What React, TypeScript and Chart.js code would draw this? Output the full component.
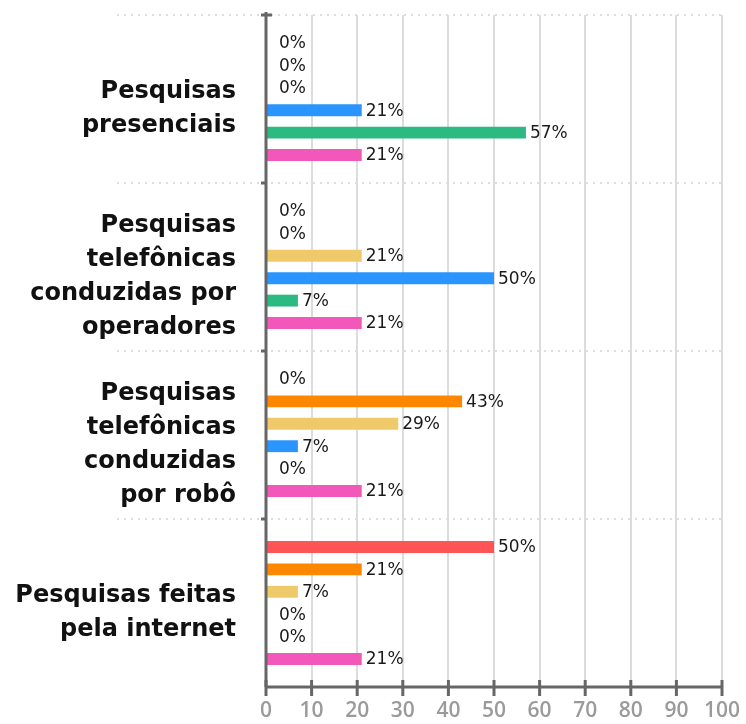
import React, { useEffect, useRef } from "react";
import { Chart, registerables } from "chart.js";

Chart.register(...registerables);

const categories: string[][] = [
  ["Pesquisas", "presenciais"],
  ["Pesquisas", "telefônicas", "conduzidas por", "operadores"],
  ["Pesquisas", "telefônicas", "conduzidas", "por robô"],
  ["Pesquisas feitas", "pela internet"],
];

const redValues = [0, 0, 0, 50];
const orangeValues = [0, 0, 43, 21];
const yellowValues = [0, 21, 29, 7];
const blueValues = [21, 50, 7, 0];
const greenValues = [57, 7, 0, 0];
const pinkValues = [21, 21, 21, 21];

const seriesColors = ["#FF5456", "#FF8700", "#F0CA6A", "#2A95FF", "#2DB982", "#F257B9"];
const seriesNames = ["A", "B", "C", "D", "E", "F"];
const xMin = 0;
const xMax = 100;
const xStep = 10;

const LABEL_FONT = "'DejaVu Sans', sans-serif";
const TICK_FONT = "'Open Sans', 'DejaVu Sans', sans-serif";

const decorPlugin = {
  id: "decor",
  beforeDatasetsDraw(chart: any) {
    const { ctx, chartArea } = chart;
    const n = categories.length;
    const h = (chartArea.bottom - chartArea.top) / n;
    ctx.save();
    ctx.strokeStyle = "#dddddd";
    ctx.lineWidth = 2;
    ctx.setLineDash([2, 5]);
    for (let i = 0; i < n; i++) {
      const y = chartArea.top + i * h;
      ctx.beginPath();
      ctx.moveTo(chartArea.left - 149, y);
      ctx.lineTo(chartArea.right, y);
      ctx.stroke();
    }
    ctx.restore();
  },
  afterDatasetsDraw(chart: any) {
    const { ctx, chartArea, scales } = chart;
    const n = categories.length;
    const h = (chartArea.bottom - chartArea.top) / n;
    const L = chartArea.left;
    const B = chartArea.bottom;
    ctx.save();
    ctx.strokeStyle = "#666666";
    ctx.lineWidth = 3;
    ctx.setLineDash([]);
    ctx.beginPath();
    ctx.moveTo(L, chartArea.top - 3);
    ctx.lineTo(L, B);
    ctx.stroke();
    ctx.beginPath();
    ctx.moveTo(L - 5, chartArea.top);
    ctx.lineTo(L + 6, chartArea.top);
    ctx.stroke();
    for (let i = 1; i < n; i++) {
      const y = chartArea.top + i * h;
      ctx.beginPath();
      ctx.moveTo(L - 5, y);
      ctx.lineTo(L, y);
      ctx.stroke();
    }
    ctx.beginPath();
    ctx.moveTo(L, B);
    ctx.lineTo(chartArea.right, B);
    ctx.stroke();
    const xs = scales.x;
    for (let v = xMin; v <= xMax; v += xStep) {
      const x = xs.getPixelForValue(v);
      ctx.beginPath();
      ctx.moveTo(x, B - 7);
      ctx.lineTo(x, B + 9);
      ctx.stroke();
    }
    ctx.fillStyle = "#1a1a1a";
    ctx.font = `400 17px ${LABEL_FONT}`;
    ctx.textAlign = "left";
    ctx.textBaseline = "middle";
    chart.data.datasets.forEach((ds: any, di: number) => {
      const meta = chart.getDatasetMeta(di);
      meta.data.forEach((el: any, i: number) => {
        const v = ds.data[i];
        const x = v === 0 ? xs.getPixelForValue(0) + 13 : el.x + 4;
        ctx.fillText(`${v}%`, x, el.y + 1);
      });
    });
    ctx.restore();
  },
};

export default function App() {
  const ref = useRef<HTMLCanvasElement | null>(null);
  useEffect(() => {
    if (!ref.current) return;
    const seriesValues = [redValues, orangeValues, yellowValues, blueValues, greenValues, pinkValues];
    const chart = new Chart(ref.current, {
      type: "bar",
      data: {
        labels: categories,
        datasets: seriesValues.map((vals, i) => ({
          label: seriesNames[i],
          data: vals,
          backgroundColor: seriesColors[i],
          borderWidth: 0,
          categoryPercentage: 0.8,
          barPercentage: 0.53,
        })),
      },
      options: {
        indexAxis: "y",
        animation: false,
        responsive: false,
        devicePixelRatio: 1,
        layout: { padding: { top: 15, right: 24, left: 0, bottom: 0 } },
        plugins: {
          legend: { display: false },
          tooltip: { enabled: false },
        },
        scales: {
          x: {
            type: "linear",
            min: xMin,
            max: xMax,
            ticks: {
              stepSize: xStep,
              color: "#9a9a9a",
              font: { family: TICK_FONT, size: 21, weight: "600" },
              padding: 11,
            },
            grid: { color: "#dcdcdc", lineWidth: 2, drawTicks: false },
            border: { display: false },
            afterFit: (s: any) => {
              s.height = 37;
              s.paddingLeft = 0;
              s.paddingRight = 0;
            },
          },
          y: {
            type: "category",
            grid: { display: false, drawTicks: false },
            border: { display: false },
            ticks: {
              color: "#111111",
              font: { family: LABEL_FONT, size: 24, weight: "bold", lineHeight: 1.42 },
              padding: 30,
              labelOffset: 10,
            },
            afterFit: (s: any) => {
              s.width = 266;
              s.paddingTop = 0;
              s.paddingBottom = 0;
            },
          },
        },
      } as any,
      plugins: [decorPlugin],
    });
    return () => chart.destroy();
  }, []);
  return (
    <div style={{ position: "absolute", left: 0, top: 0, width: 746, height: 724 }}>
      <canvas ref={ref} width={746} height={724} style={{ display: "block" }} />
    </div>
  );
}
